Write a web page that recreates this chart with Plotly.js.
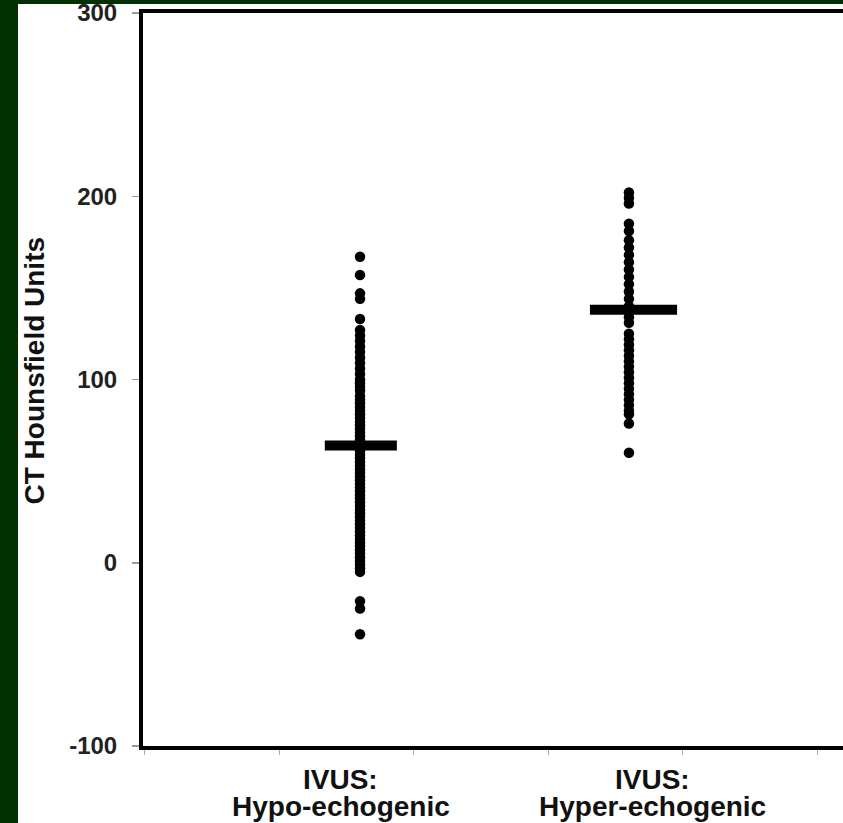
<!DOCTYPE html>
<html>
<head>
<meta charset="utf-8">
<script src="https://cdn.plot.ly/plotly-3.0.1.min.js"></script>
<style>
html,body{margin:0;padding:0;background:#013001;width:843px;height:823px;overflow:hidden;}
#chart{position:absolute;left:18px;top:0px;width:825px;height:823px;background:#fff;}
#topbar{position:absolute;left:0;top:0;width:843px;height:4px;background:#013001;z-index:10;}
</style>
</head>
<body>
<div id="chart"></div>
<div id="topbar"></div>
<script>
// Categories (x positions 1 and 2), each label has two lines
var categories = ["IVUS:<br>Hypo-echogenic", "IVUS:<br>Hyper-echogenic"];
var categoryX = [1, 2];

// CT Hounsfield unit values
var hypoValues = [167, 157, 147, 144, 133,
  127, 124, 121, 118, 115, 112, 109, 106, 103, 100, 98, 96, 94, 91, 89, 87, 85, 83, 81, 79,
  77, 75, 73, 71, 69, 67, 65, 63, 61, 59, 57, 55, 53, 51, 49, 47, 45, 43, 41, 39, 37, 35,
  33, 31, 29, 27, 25, 23, 21, 19, 17, 15, 13, 11, 9, 7, 5, 3, 1, -1, -3, -5,
  -21, -25, -39];
var hyperValues = [202, 199, 196, 185, 181, 176, 172, 168, 164, 160, 156, 152, 148, 144,
  140, 137, 134, 131, 125, 122, 119, 116, 113, 110, 107, 104, 101, 98, 95, 92, 89, 86, 83,
  81, 76, 60];
var means = [64, 138];

var yTicks = [-100, 0, 100, 200, 300];
var xTickMarks = [0.2, 0.7, 1.2, 1.7, 2.2, 2.7];

function xs(v, n){ var a=[]; for(var i=0;i<n;i++) a.push(v); return a; }

var dotStyle = {color:'#000', size:10.5, line:{width:0}};
var traces = [
  {x: xs(categoryX[0], hypoValues.length), y: hypoValues, type:'scatter', mode:'markers', marker:dotStyle, hoverinfo:'y'},
  {x: xs(categoryX[1], hyperValues.length), y: hyperValues, type:'scatter', mode:'markers', marker:dotStyle, hoverinfo:'y'}
];
var halfW = [0.134, 0.162];
var offs = [0.003, 0.017];
for (var i=0;i<means.length;i++){
  traces.push({x:[categoryX[i]+offs[i]-halfW[i], categoryX[i]+offs[i]+halfW[i]], y:[means[i], means[i]],
    type:'scatter', mode:'lines', line:{color:'#000', width:10}, hoverinfo:'y'});
}

var labelFont = {family:'"Liberation Sans", Arial, sans-serif', size:28, color:'#111', weight:'bold'};
var labelX = [0.929, 2.089];
var lineShift = [-17, -44];
var annotations = [];
categories.forEach(function(c, i){
  c.split('<br>').forEach(function(part, j){
    annotations.push({text:part, x:labelX[i], xref:'x', y:0, yref:'paper', yanchor:'top', xanchor:'center',
      yshift:lineShift[j], showarrow:false, font:labelFont, align:'center', borderpad:0});
  });
});
annotations.push({text:'CT Hounsfield Units', textangle:-90, xref:'paper', x:0, xshift:-109, xanchor:'center',
  yref:'paper', y:0.5, yanchor:'middle', yshift:9, showarrow:false,
  font:{family:'"Liberation Sans", Arial, sans-serif', size:28, color:'#111', weight:'bold'}});

var layout = {
  width:825, height:823,
  margin:{l:125, r:0, t:13, b:77, pad:0},
  paper_bgcolor:'#fff', plot_bgcolor:'#fff',
  showlegend:false,
  xaxis:{range:[0.193, 2.796], showgrid:false, zeroline:false, showline:true, linecolor:'#000', linewidth:4,
    mirror:true, ticks:'outside', tickvals:xTickMarks, ticklen:5, tickwidth:1, tickcolor:'#aaa',
    showticklabels:false, fixedrange:true},
  yaxis:{range:[-100, 300], showgrid:false, zeroline:false, showline:true, linecolor:'#000', linewidth:4,
    ticks:'outside', tickvals:yTicks, ticktext:yTicks.map(String), ticklen:7, tickwidth:1.5, tickcolor:'#999',
    ticklabelstandoff:10, ticklabeloverflow:'allow',
    tickfont:{family:'"Liberation Sans", Arial, sans-serif', size:24, color:'#222', weight:'bold'}, fixedrange:true},
  annotations: annotations
};
Plotly.newPlot('chart', traces, layout, {displayModeBar:false, staticPlot:true});
</script>
</body>
</html>
